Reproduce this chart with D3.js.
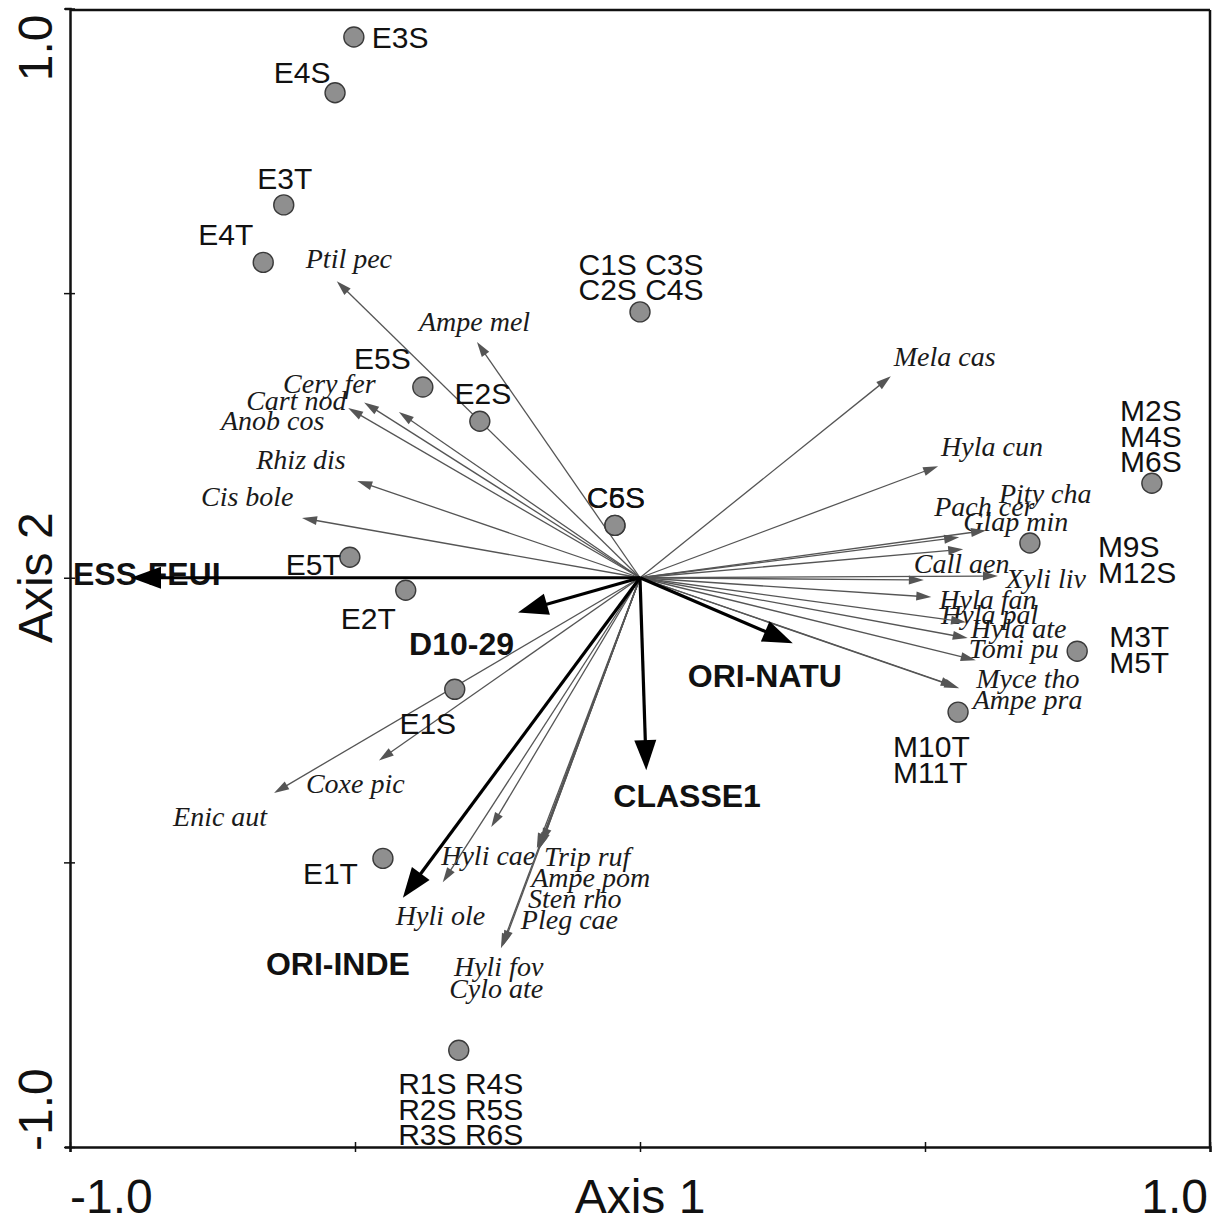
<!DOCTYPE html>
<html>
<head>
<meta charset="utf-8">
<script src="https://cdn.jsdelivr.net/npm/d3@7"></script>
<style>
  html, body { margin: 0; padding: 0; background: #fff; }
  svg { display: block; }
</style>
</head>
<body>
<svg id="chart" width="1226" height="1223"></svg>
<script>
// ---------------- DATA ----------------
const axisTicks = [-1, -0.5, 0, 0.5, 1];
const axisTickLabels = ["-1.0", "", "", "", "1.0"];
const axisTitles = ["Axis 1", "Axis 2"];

// Samples (site scores)
const sampleNames = [
  ["E3S"], ["E4S"], ["E3T"], ["E4T"], ["C1S C3S", "C2S C4S"], ["E5S"], ["E2S"],
  ["C5S"], ["C6S"], ["E5T"], ["E2T"], ["E1S"], ["E1T"],
  ["R1S R4S", "R2S R5S", "R3S R6S"], ["M2S", "M4S", "M6S"], ["M9S", "M12S"],
  ["M3T", "M5T"], ["M10T", "M11T"]
];
const sampleAxis1 = [-0.502, -0.535, -0.625, -0.661, 0.000, -0.381, -0.281,
  -0.044, -0.044, -0.509, -0.411, -0.325, -0.451, -0.318, 0.898, 0.684, 0.767, 0.558];
const sampleAxis2 = [0.950, 0.852, 0.655, 0.554, 0.467, 0.335, 0.275,
  0.092, 0.092, 0.036, -0.022, -0.196, -0.493, -0.830, 0.166, 0.061, -0.129, -0.236];

// Species (arrows)
const speciesNames = ["Ptil pec", "Ampe mel", "Cery fer", "Cart nod", "Anob cos", "Rhiz dis",
  "Cis bole", "Enic aut", "Coxe pic", "Hyli cae", "Hyli ole", "Trip ruf", "Ampe pom",
  "Sten rho", "Pleg cae", "Hyli fov", "Cylo ate", "Mela cas", "Hyla cun", "Pity cha",
  "Pach cer", "Glap min", "Call aen", "Xyli liv", "Hyla fan", "Hyla pal", "Hyla ate",
  "Tomi pu", "Myce tho", "Ampe pra"];
const speciesAxis1 = [-0.532, -0.286, -0.484, -0.512, -0.423, -0.496,
  -0.593, -0.642, -0.458, -0.261, -0.346, -0.172, -0.175,
  -0.179, -0.181, -0.244, -0.240, 0.440, 0.523, 0.607,
  0.560, 0.567, 0.498, 0.628, 0.511, 0.572, 0.575,
  0.589, 0.560, 0.554];
const speciesAxis2 = [0.521, 0.414, 0.308, 0.298, 0.291, 0.170,
  0.105, -0.378, -0.321, -0.438, -0.535, -0.466, -0.474,
  -0.479, -0.475, -0.651, -0.646, 0.354, 0.196, 0.083,
  0.071, 0.050, -0.004, 0.003, -0.034, -0.078, -0.106,
  -0.145, -0.194, -0.191];

// Environmental variables (arrows)
const envNames = ["ESS-FEUI", "D10-29", "ORI-NATU", "CLASSE1", "ORI-INDE"];
const envAxis1 = [-0.893, -0.214, 0.268, 0.011, -0.416];
const envAxis2 = [0.000, -0.061, -0.115, -0.338, -0.562];

// ---------------- LAYOUT (label placement, px) ----------------
const sampleLabelLayout = [
  {dx: 18, dy: 11, a: "start"}, {dx: -33, dy: -10, a: "middle"}, {dx: 1, dy: -16, a: "middle"},
  {dx: -10, dy: -17, a: "end"}, {dx: 1, dy: -37, a: "middle"}, {dx: -12, dy: -18, a: "end"},
  {dx: 3, dy: -17, a: "middle"}, {dx: 1, dy: -17, a: "middle"}, {dx: 1, dy: -17, a: "middle"},
  {dx: -9, dy: 18, a: "end"}, {dx: -10, dy: 39, a: "end"}, {dx: -27, dy: 45, a: "middle"},
  {dx: -25, dy: 26, a: "end"}, {dx: 2, dy: 44, a: "middle"}, {dx: -1, dy: -62, a: "middle"},
  {dx: 68, dy: 14, a: "start"}, {dx: 32, dy: -4, a: "start"}, {dx: -65, dy: 45, a: "start"}
];
const speciesLabelLayout = [
  [-31, -13], [-58, -11], [-81, -9], [-102, 2], [-178, 18], [-101, -12],
  [-101, -12], [-101, 33], [-73, 33], [-50, 38], [-47, 43], [2, 23], [-9, 39],
  [-10, 58], [-16, 81], [-47, 28], [-54, 53], [3, -10], [3, -10], [13, -28],
  [-25, -21], [0, -18], [-10, -7], [8, 12], [8, 12], [-25, 2], [3, 0],
  [-7, -2], [17, 0], [17, 23]
];
const envLabelLayout = [[-58, 7], [-109, 43], [-105, 44], [-33, 37], [-137, 77]];

// ---------------- CHART ----------------
const svg = d3.select("#chart");
const x = d3.scaleLinear().domain([-1, 1]).range([70, 1210]);
const y = d3.scaleLinear().domain([-1, 1]).range([1147, 8.5]);
const SANS = "'Liberation Sans', Arial, Helvetica, sans-serif";
const SERIF = "'Liberation Serif', 'Times New Roman', serif";

// Frame
const frame = svg.append("g");
frame.append("line").attr("x1", x(-1)).attr("x2", x(1)).attr("y1", 10).attr("y2", 10)
  .attr("stroke", "#111").attr("stroke-width", 2.5);
frame.append("line").attr("x1", x(1)).attr("x2", x(1)).attr("y1", 10).attr("y2", y(-1))
  .attr("stroke", "#111").attr("stroke-width", 2.5);

// Axes
const xAxis = svg.append("g").attr("transform", `translate(0,${y(-1)})`)
  .call(d3.axisBottom(x).tickValues(axisTicks).tickSizeOuter(0).tickSize(5).tickFormat(""));
const yAxis = svg.append("g").attr("transform", `translate(${x(-1)},0)`)
  .call(d3.axisLeft(y).tickValues(axisTicks).tickSizeOuter(0).tickSize(5).tickFormat(""));
[xAxis, yAxis].forEach(g => {
  g.select(".domain").attr("stroke", "#111").attr("stroke-width", 2.5);
  g.selectAll(".tick line").attr("stroke", "#111").attr("stroke-width", 1.5);
});
xAxis.selectAll(".tick line").attr("y1", -5).attr("y2", 5);
yAxis.selectAll(".tick line").attr("x1", -6).attr("x2", 5);

// Tick labels
const tickFont = 48;
const xLabelBaseline = 1213;
axisTicks.forEach((t, i) => {
  if (!axisTickLabels[i]) return;
  svg.append("text").text(axisTickLabels[i])
    .attr("x", i === 0 ? x(t) : x(t) - 2).attr("y", xLabelBaseline)
    .attr("text-anchor", i === 0 ? "start" : "end")
    .attr("font-family", SANS).attr("font-size", tickFont).attr("fill", "#111");
  svg.append("text").text(axisTickLabels[i])
    .attr("transform", `translate(52,${i === 0 ? y(t) + 4 : y(t) + 6}) rotate(-90)`)
    .attr("text-anchor", i === 0 ? "start" : "end")
    .attr("font-family", SANS).attr("font-size", tickFont).attr("fill", "#111");
});
svg.append("text").text(axisTitles[0])
  .attr("x", x(0)).attr("y", xLabelBaseline).attr("text-anchor", "middle")
  .attr("font-family", SANS).attr("font-size", tickFont).attr("fill", "#111");
svg.append("text").text(axisTitles[1])
  .attr("transform", `translate(52,${y(0)}) rotate(-90)`).attr("text-anchor", "middle")
  .attr("font-family", SANS).attr("font-size", tickFont).attr("fill", "#111");

// Arrow helper
function arrow(g, x0, y0, x1, y1, headLen, headHalf, color, width) {
  const dx = x1 - x0, dy = y1 - y0, L = Math.hypot(dx, dy);
  const ux = dx / L, uy = dy / L;
  const bx = x1 - ux * headLen, by = y1 - uy * headLen;
  g.append("line").attr("x1", x0).attr("y1", y0).attr("x2", bx + ux * 2).attr("y2", by + uy * 2)
    .attr("stroke", color).attr("stroke-width", width);
  g.append("path")
    .attr("d", `M${x1},${y1}L${bx - uy * headHalf},${by + ux * headHalf}L${bx + uy * headHalf},${by - ux * headHalf}Z`)
    .attr("fill", color);
}

const ox = x(0), oy = y(0);

// Species labels
const spLab = svg.append("g");
speciesNames.forEach((n, i) => {
  spLab.append("text").text(n)
    .attr("x", x(speciesAxis1[i]) + speciesLabelLayout[i][0])
    .attr("y", y(speciesAxis2[i]) + speciesLabelLayout[i][1])
    .attr("font-family", SERIF).attr("font-style", "italic").attr("font-size", 28)
    .attr("fill", "#1a1a1a");
});
// Env labels
const envLab = svg.append("g");
envNames.forEach((n, i) => {
  envLab.append("text").text(n)
    .attr("x", x(envAxis1[i]) + envLabelLayout[i][0])
    .attr("y", y(envAxis2[i]) + envLabelLayout[i][1])
    .attr("font-family", SANS).attr("font-weight", "bold").attr("font-size", 32)
    .attr("fill", "#111");
});

// Species arrows
const spArr = svg.append("g");
speciesNames.forEach((n, i) => {
  arrow(spArr, ox, oy, x(speciesAxis1[i]), y(speciesAxis2[i]), 15, 4.5, "#555", 1.3);
});
// Env arrows
const envArr = svg.append("g");
envNames.forEach((n, i) => {
  arrow(envArr, ox, oy, x(envAxis1[i]), y(envAxis2[i]), 30, 11, "#000", 3.2);
});

// Sample points
const pts = svg.append("g");
sampleNames.forEach((n, i) => {
  pts.append("circle").attr("cx", x(sampleAxis1[i])).attr("cy", y(sampleAxis2[i])).attr("r", 10)
    .attr("fill", "#8f8f8f").attr("stroke", "#3a3a3a").attr("stroke-width", 1.4);
});
// Sample labels
const sLab = svg.append("g");
sampleNames.forEach((lines, i) => {
  const lay = sampleLabelLayout[i];
  const t = sLab.append("text")
    .attr("x", x(sampleAxis1[i]) + lay.dx).attr("y", y(sampleAxis2[i]) + lay.dy)
    .attr("text-anchor", lay.a).attr("font-family", SANS).attr("font-size", 30).attr("fill", "#111");
  lines.forEach((l, j) => {
    t.append("tspan").text(l).attr("x", x(sampleAxis1[i]) + lay.dx).attr("dy", j === 0 ? 0 : 25.5);
  });
});
</script>
</body>
</html>
